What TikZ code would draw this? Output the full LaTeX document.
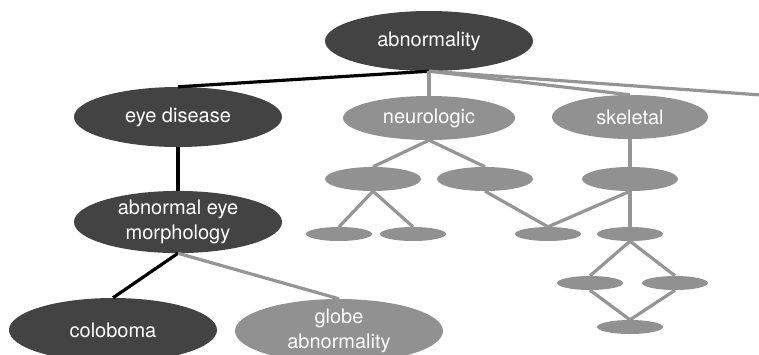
\documentclass[tikz,border=0pt]{standalone}
\usepackage{fontspec}
\setmainfont{TeX Gyre Heros}
\usetikzlibrary{shapes.geometric}
\definecolor{darknode}{HTML}{434343}
\definecolor{graynode}{HTML}{919191}
\definecolor{grayline}{HTML}{959595}
\tikzset{
  big/.style={ellipse, inner sep=0pt, minimum width=208pt, minimum height=60pt,
    text=white, font=\fontsize{20}{25}\selectfont, align=center},
  bigdark/.style={big, fill=darknode},
  biggray/.style={big, fill=graynode},
  mid/.style={ellipse, fill=graynode, inner sep=0pt, minimum width=96pt, minimum height=24pt},
  small/.style={ellipse, fill=graynode, inner sep=0pt, minimum width=66pt, minimum height=14pt},
  blackedge/.style={draw=black, line width=3.2pt},
  grayedge/.style={draw=grayline, line width=3.2pt}
}
\begin{document}
\begin{tikzpicture}[x=1pt, y=-1pt]
\useasboundingbox (0,0) rectangle (759,354);
\clip (0,0) rectangle (759,354);
% main nodes
\node[bigdark] (abn) at (429,41) {abnormality};
\node[bigdark] (eye) at (178,117) {eye disease};
\node[biggray, minimum width=172pt, minimum height=44pt] (neuro) at (429,118) {neurologic};
\node[biggray, minimum width=156pt, minimum height=44pt] (skel) at (630,117) {skeletal};
\node[bigdark] (aem) at (178,222) {abnormal eye\\morphology};
\node[bigdark, minimum height=64pt] (colo) at (113,330) {coloboma};
\node[biggray, minimum height=64pt] (globe) at (339,331) {globe\\abnormality};
\coordinate (off) at (775,96);
% unnamed gray tree
\node[mid] (a) at (373,179) {};
\node[mid] (b) at (485,179) {};
\node[mid] (c) at (630,179) {};
\node[small] (d) at (339,234) {};
\node[small] (e) at (413,234) {};
\node[small] (f) at (548,234) {};
\node[small] (g) at (630,234) {};
\node[small] (h) at (590,283) {};
\node[small] (i) at (675,283) {};
\node[small] (j) at (630,327) {};
% edges
\draw[blackedge] (abn.south) -- (eye.north);
\draw[grayedge] (abn.south) -- (neuro.north);
\draw[grayedge] (abn.south) -- (skel.north);
\draw[grayedge] (abn.south) -- (off);
\draw[blackedge] (eye.south) -- (aem.north);
\draw[blackedge] (aem.south) -- (colo.north);
\draw[grayedge] (aem.south) -- (globe.north);
\draw[grayedge] (neuro.south) -- (a.north);
\draw[grayedge] (neuro.south) -- (b.north);
\draw[grayedge] (skel.south) -- (c.north);
\draw[grayedge] (a.south) -- (d.north);
\draw[grayedge] (a.south) -- (e.north);
\draw[grayedge] (b.south) -- (f.north);
\draw[grayedge] (c.south) -- (f.north);
\draw[grayedge] (c.south) -- (g.north);
\draw[grayedge] (g.south) -- (h.north);
\draw[grayedge] (g.south) -- (i.north);
\draw[grayedge] (h.south) -- (j.north);
\draw[grayedge] (i.south) -- (j.north);
\end{tikzpicture}
\end{document}
